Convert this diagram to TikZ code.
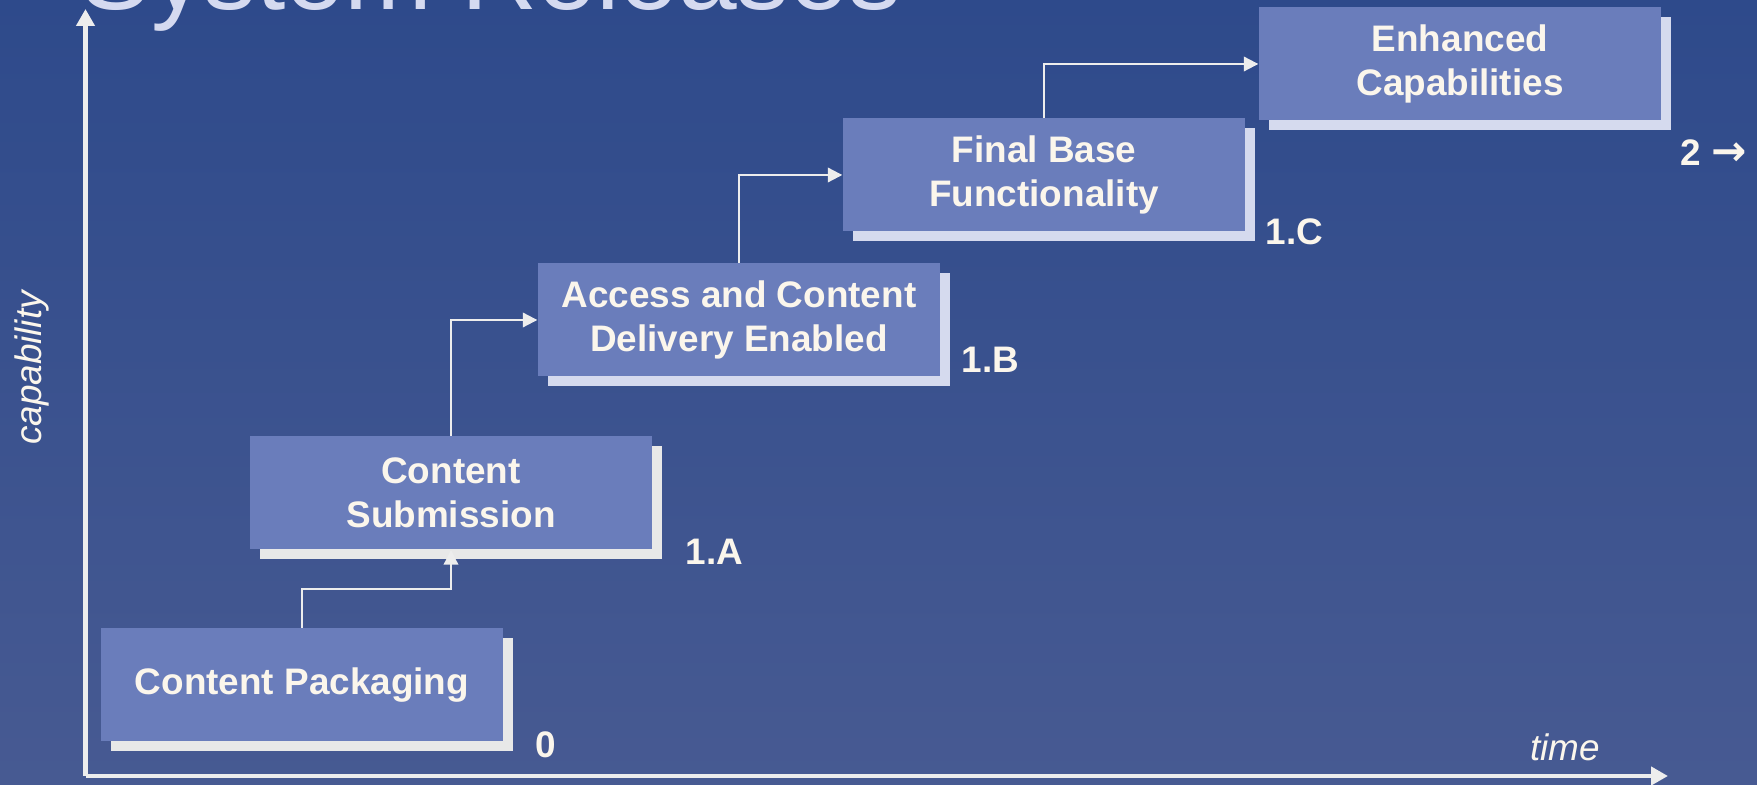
\documentclass[tikz,border=0pt]{standalone}
\usepackage{fontspec}
\setmainfont{Liberation Sans}
\newfontfamily\arrowfont{DejaVu Sans}
\usetikzlibrary{arrows.meta,shadows,calc}
\definecolor{bgtop}{HTML}{2E4A8B}
\definecolor{bgbot}{HTML}{475A92}
\definecolor{boxfill}{HTML}{6A7DBB}
\definecolor{cream}{HTML}{FBF6EC}
\definecolor{shadowgray}{HTML}{E8E8E8}
\definecolor{shadowlav}{HTML}{D5DAEE}
\definecolor{linecol}{HTML}{EDEDED}
\definecolor{titlecol}{HTML}{D5DAF0}
\begin{document}
\begin{tikzpicture}[
        box/.style={fill=boxfill, text=cream, align=center, inner sep=0pt,
            font=\fontsize{10.5}{12.5}\selectfont\bfseries,
            minimum width=4.02cm, minimum height=1.13cm,
            drop shadow={shadow xshift=0.1cm, shadow yshift=-0.1cm, fill=#1, opacity=1}},
        box/.default=shadowlav,
        link/.style={-{Triangle[length=1.45mm, width=1.45mm]}, linecol, line width=0.6pt},
        axis/.style={-{Triangle[length=1.7mm, width=1.8mm]}, linecol, line width=1.4pt},
        tag/.style={text=cream, inner sep=0pt, anchor=base west,
            font=\fontsize{10.5}{12.5}\selectfont\bfseries},
        axislabel/.style={text=cream, inner sep=0pt,
            font=\fontsize{10.5}{12.5}\selectfont\itshape}
    ]
    \useasboundingbox (0,0) rectangle (17.57,7.85);
    \clip (0,0) rectangle (17.57,7.85);
    \shade[top color=bgtop, bottom color=bgbot] (0,0) rectangle (17.57,7.85);
    % Title
    \node[anchor=base west, inner sep=0pt, text=titlecol, font=\fontsize{30}{35}\selectfont] (title) at (0.80,7.75) {System Releases};
    % Axes
    \coordinate (origin) at (0.855,0.09);
    \coordinate (ytip) at (0.855,7.76);
    \coordinate (xtip) at (16.68,0.09);
    \draw[axis] (origin) -- (ytip);
    \draw[axis] (origin) -- (xtip);
    \node[axislabel, rotate=90] (cap) at (0.32,4.17) {capability};
    \node[axislabel] (time) at (15.65,0.38) {time};
    % Nodes
    \node[box=shadowgray] (cp) at (3.02,1.00) {Content Packaging};
    \node[box=shadowgray] (cs) at (4.51,2.92) {Content\\Submission};
    \node[box] (ac) at (7.39,4.65) {Access and Content\\Delivery Enabled};
    \node[box] (fb) at (10.44,6.10) {Final Base\\Functionality};
    \node[box] (ec) at (14.60,7.21) {Enhanced\\Capabilities};
    % Release tags
    \node[tag] (r0) at (5.35,0.27) {0};
    \node[tag] (r1a) at (6.85,2.20) {1.A};
    \node[tag] (r1b) at (9.61,4.12) {1.B};
    \node[tag] (r1c) at (12.65,5.40) {1.C};
    \node[tag] (r2) at (16.80,6.19) {2 {\arrowfont\fontsize{12}{14}\selectfont →}};
    % Edges
    \coordinate (m1) at ($(cp.north)!0.5!(cs.south)$);
    \draw[link] (cp.north) |- (m1) -| (cs.south);
    \draw[link] (cs.north) |- (ac.west);
    \draw[link] (ac.north) |- (fb.west);
    \draw[link] (fb.north) |- (ec.west);
\end{tikzpicture}
\end{document}
